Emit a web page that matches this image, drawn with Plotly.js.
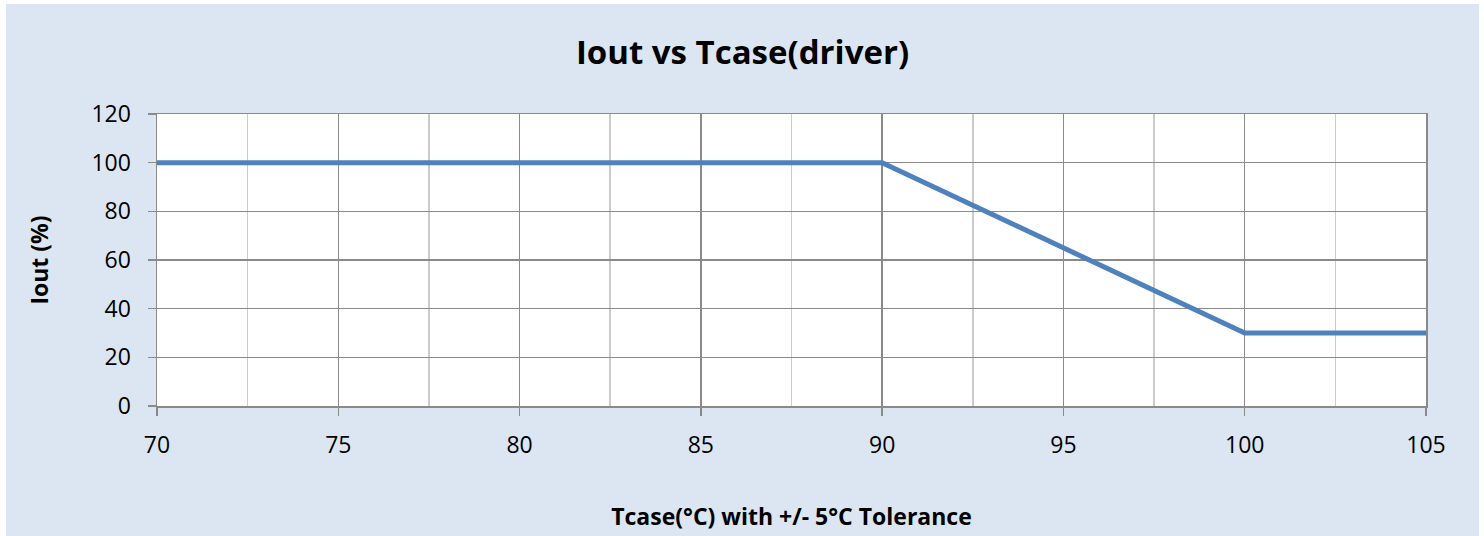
<!DOCTYPE html>
<html>
<head>
<meta charset="utf-8">
<script src="https://cdn.plot.ly/plotly-3.0.1.min.js"></script>
<style>
  html, body { margin: 0; padding: 0; background: #ffffff; width: 1484px; height: 536px; overflow: hidden; }
  #chart { position: absolute; left: 6px; top: 4px; width: 1473px; height: 532px; }
</style>
</head>
<body>
<div id="chart"></div>
<script>
// Data
const tcase = [70, 90, 100, 105];
const iout = [100, 100, 30, 30];

const chartTitle = "Iout vs Tcase(driver)";
const xTitle = "Tcase(°C) with +/- 5°C Tolerance";
const yTitle = "Iout (%)";

const fontFamily = "'Open Sans', 'Noto Sans', 'DejaVu Sans', sans-serif";

const trace = {
  x: tcase,
  y: iout,
  type: "scatter",
  mode: "lines",
  line: { color: "#4f81bd", width: 5 },
  hoverinfo: "x+y"
};

const layout = {
  width: 1473,
  height: 532,
  paper_bgcolor: "#dce6f2",
  plot_bgcolor: "#ffffff",
  margin: { l: 151, r: 53, t: 110, b: 130 },
  showlegend: false,
  font: { family: fontFamily, color: "#000000", size: 24 },
  title: {
    text: "<b>" + chartTitle + "</b>",
    font: { family: fontFamily, size: 33, color: "#000000" },
    x: 0.5,
    xanchor: "center",
    y: 1 - 48 / 532,
    yanchor: "middle",
    yref: "container"
  },
  xaxis: {
    range: [70, 105],
    tick0: 70,
    dtick: 5,
    tickmode: "linear",
    showgrid: true,
    gridcolor: "#8a8a8a",
    gridwidth: 1.5,
    minor: { dtick: 2.5, tick0: 70, showgrid: true, gridcolor: "#cccccc", gridwidth: 1.5, ticks: "" },
    showline: true,
    linecolor: "#8a8a8a",
    linewidth: 1.5,
    mirror: true,
    ticks: "outside",
    ticklen: 8,
    tickwidth: 1.5,
    tickcolor: "#8a8a8a",
    ticklabelstandoff: 10,
    tickfont: { family: fontFamily, size: 23, color: "#000000" },
    zeroline: false,
    fixedrange: true,
    title: {
      text: "<b>" + xTitle + "</b>",
      font: { family: fontFamily, size: 23, color: "#000000" },
      standoff: 50
    },
    automargin: false
  },
  yaxis: {
    range: [0, 120],
    tick0: 0,
    dtick: 20,
    tickmode: "linear",
    showgrid: true,
    gridcolor: "#8a8a8a",
    gridwidth: 1.5,
    showline: true,
    linecolor: "#8a8a8a",
    linewidth: 1.5,
    mirror: true,
    ticks: "outside",
    ticklen: 8,
    tickwidth: 1.5,
    tickcolor: "#8a8a8a",
    ticklabelstandoff: 12,
    tickfont: { family: fontFamily, size: 23, color: "#000000" },
    zeroline: false,
    fixedrange: true,
    title: {
      text: "<b>" + yTitle + "</b>",
      font: { family: fontFamily, size: 23, color: "#000000" },
      standoff: 36
    },
    automargin: false
  }
};

Plotly.newPlot("chart", [trace], layout, { displayModeBar: false, staticPlot: true });
</script>
</body>
</html>
